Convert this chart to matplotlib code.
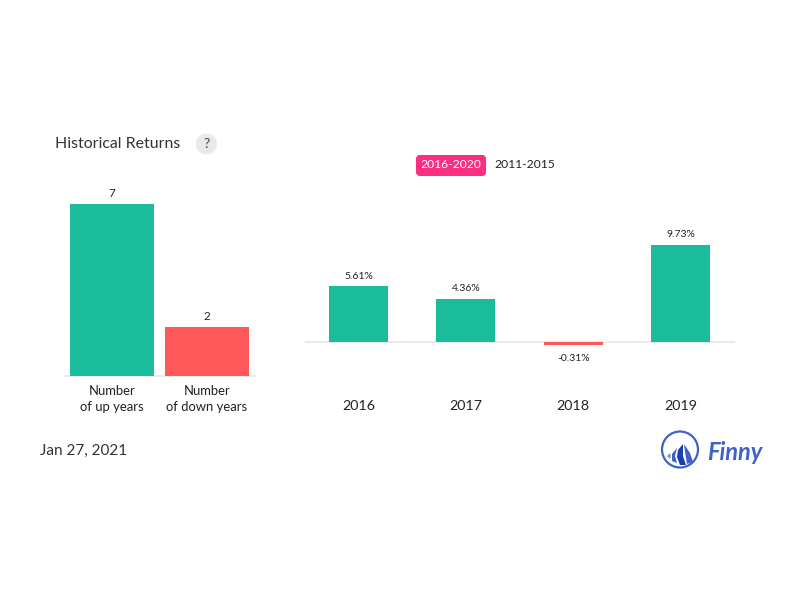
import matplotlib
matplotlib.use('Agg')
import matplotlib.pyplot as plt
from matplotlib.patches import Circle, FancyBboxPatch, Polygon

plt.rcParams['font.family'] = ['Lato', 'DejaVu Sans']

count_labels = ['Number\nof up years', 'Number\nof down years']
count_values = [7, 2]
years = ['2016', '2017', '2018', '2019']
returns = [5.61, 4.36, -0.31, 9.73]
title = 'Historical Returns'
date_text = 'Jan 27, 2021'

GREEN = '#1abc9c'
RED = '#ff5858'
LINE = '#e6e6ea'
BLUE = '#3f62c4'

W, H = 800, 600
fig = plt.figure(figsize=(W / 100, H / 100), dpi=100)


def axes_px(x0, y0, x1, y1):
    # pixel box, y measured from the top
    return fig.add_axes([x0 / W, 1 - y1 / H, (x1 - x0) / W, (y1 - y0) / H])


def clean(ax):
    ax.patch.set_alpha(0)
    for s in ax.spines.values():
        s.set_visible(False)
    ax.set_yticks([])


# left chart: counts
ax1 = axes_px(65, 190, 255, 376)
ax1.bar(range(2), count_values, width=84 / 95, color=[GREEN, RED], zorder=3)
ax1.set_xlim(-47 / 95, 1 + 48 / 95)
ax1.set_ylim(0, 186 / (172 / 7))
clean(ax1)
ax1.spines['bottom'].set_visible(True)
ax1.spines['bottom'].set_color(LINE)
ax1.spines['bottom'].set_linewidth(1.2)
ax1.set_xticks(range(2), count_labels, fontsize=9.4, color='#222222', linespacing=1.35)
ax1.tick_params(axis='x', length=0, pad=6.5)
for i, v in enumerate(count_values):
    ax1.annotate(str(v), (i, v), xytext=(0, 3.5), textcoords='offset points',
                 ha='center', va='bottom', fontsize=8.5, color='#222222')

# right chart: yearly returns
ax2 = axes_px(305, 225, 735, 372)
ax2.bar(range(4), returns, width=59 / 107.3,
        color=[GREEN if r >= 0 else RED for r in returns], zorder=3)
ax2.axhline(0, color=LINE, lw=1.2, zorder=1)
ax2.set_xlim(-53.5 / 107.3, 3 + 54.5 / 107.3)
ax2.set_ylim(-30 / 9.97, 117 / 9.97)
clean(ax2)
ax2.set_xticks(range(4), years, fontsize=10.3, color='#222222')
ax2.tick_params(axis='x', length=0, pad=20)
for i, r in enumerate(returns):
    off = 4 if r >= 0 else -6.5
    ax2.annotate(f'{r:.2f}%', (i, r), xytext=(0, off), textcoords='offset points',
                 ha='center', va='bottom' if r >= 0 else 'top',
                 fontsize=7.5, color='#222222')

# overlay in pixels for header, range buttons and logo
ov = fig.add_axes([0, 0, 1, 1], zorder=5)
ov.set_xlim(0, W)
ov.set_ylim(H, 0)
ov.axis('off')

ov.text(55, 144, title, fontsize=11.4, color='#333333', va='center')
ov.add_patch(Circle((206.5, 144), 10.5, color='#e9e9e9', lw=0))
ov.text(206.5, 144, '?', fontsize=10, color='#444444', ha='center', va='center')

ov.add_patch(FancyBboxPatch((417, 156), 68, 19, boxstyle='round,pad=0,rounding_size=3',
                            fc='#fb2f82', ec='#fb2f82', lw=1.5))
ov.text(451, 165, '2016-2020', fontsize=8.7, color='white', ha='center', va='center')
ov.text(525, 165, '2011-2015', fontsize=8.7, color='#222222', ha='center', va='center')

ov.text(40, 451, date_text, fontsize=11, color='#333333', va='center')

ov.add_patch(Circle((680, 449.5), 18, fc='white', ec=BLUE, lw=1.6))
ov.add_patch(Polygon([(670, 453), (667, 456), (670, 459), (671, 456)], color='#7f95d8', lw=0))
ov.add_patch(Polygon([(677, 448), (672, 454), (672, 461), (677, 463), (675, 456)], color=BLUE, lw=0))
ov.add_patch(Polygon([(683, 444), (678, 450), (677, 457), (680, 465), (686, 465), (683, 456)],
                     color='#1f3fa8', lw=0))
ov.add_patch(Polygon([(684, 444), (685, 452), (687, 464), (693, 462), (690, 453)], color=BLUE, lw=0))
ov.text(707, 453, 'Finny', fontsize=17, color=BLUE, fontstyle='italic', fontweight='bold', va='center')

fig.savefig('out.png', dpi=100)
